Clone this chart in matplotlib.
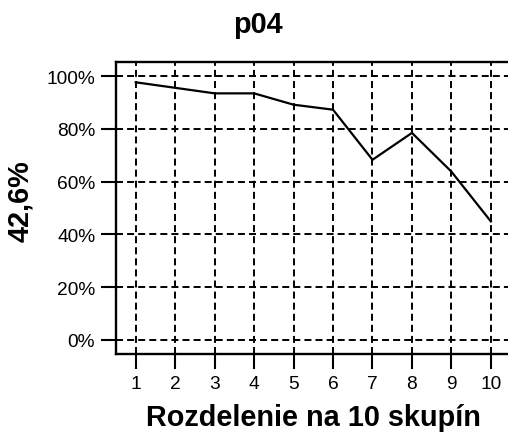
import numpy as np
import matplotlib
matplotlib.use("Agg")
import matplotlib.pyplot as plt
from matplotlib.ticker import FuncFormatter

plt.rcParams["font.family"] = ["Liberation Sans", "DejaVu Sans"]

# Data
groups = [1, 2, 3, 4, 5, 6, 7, 8, 9, 10]
share = [0.977, 0.956, 0.935, 0.935, 0.892, 0.873, 0.683, 0.785, 0.638, 0.449]
title = "p04"
y_label = "42,6%"
x_label = "Rozdelenie na 10 skupín"
y_ticks = [0.0, 0.2, 0.4, 0.6, 0.8, 1.0]

fig = plt.figure(figsize=(5.08, 4.39), dpi=100)
ax = fig.add_axes([116 / 508, 1 - 355 / 439, 394.6 / 508, 292 / 439])

ax.plot(groups, share, color="black", linewidth=1.6, zorder=3)

ax.set_xlim(0.5, 10.5)
ax.set_ylim(-0.054, 1.054)
ax.set_xticks(groups)
ax.set_yticks(y_ticks)
ax.yaxis.set_major_formatter(FuncFormatter(lambda v, p: "%d%%" % round(v * 100)))

ax.grid(True, color="black", linewidth=1.4, linestyle=(0, (3.6, 2.1)), zorder=1)
ax.tick_params(direction="out", length=11, width=1.5, labelsize=13.8,
               colors="black", pad=4)

for s in ax.spines.values():
    s.set_linewidth(1.7)

ax.set_xlabel(x_label, fontsize=20.8, fontweight="bold", labelpad=8)
ax.set_ylabel(y_label, fontsize=20.8, fontweight="bold")
ax.yaxis.set_label_coords(-0.208, 0.527)

fig.text(258 / 508, 1 - 33 / 439, title, fontsize=20.8, fontweight="bold",
         ha="center", va="baseline")

plt.savefig("out.png", dpi=100)
